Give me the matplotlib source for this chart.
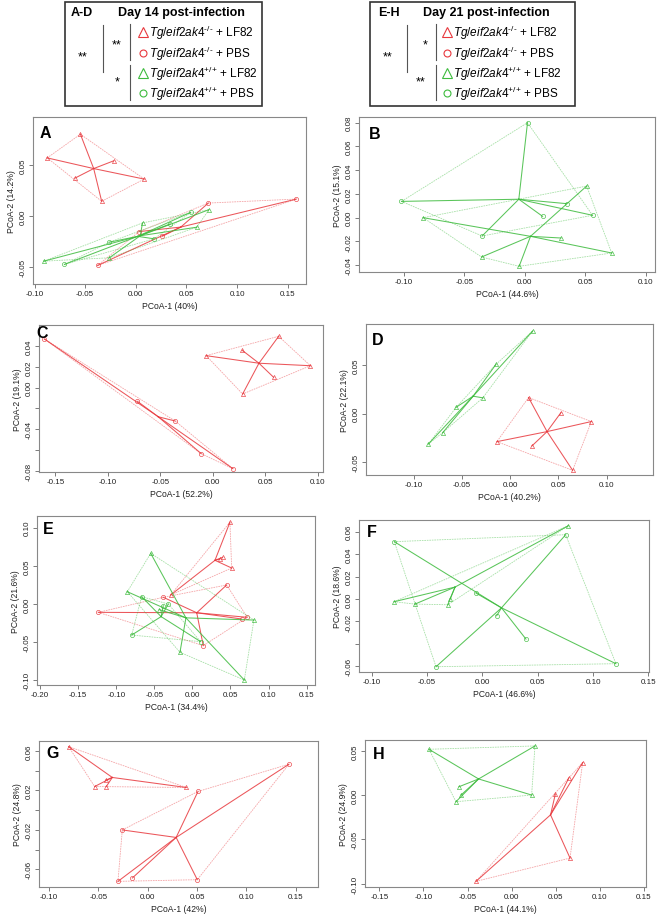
import numpy as np
import matplotlib
matplotlib.use('Agg')
import matplotlib.pyplot as plt
from matplotlib.patches import Rectangle

plt.rcParams['font.family'] = ['Liberation Sans', 'DejaVu Sans']
plt.rcParams['mathtext.fontset'] = 'custom'
plt.rcParams['mathtext.it'] = 'Liberation Sans:italic'
plt.rcParams['mathtext.rm'] = 'Liberation Sans'

W, H = 659, 920
RED = '#e8383d'
GREEN = '#3dbb3d'

### Data (PCoA-1, PCoA-2) per sample
A_ko_lf82 = [(-0.0547, 0.0805), (-0.0875, 0.0573), (-0.0219, 0.0544), (-0.060, 0.0375), (0.0083, 0.0365), (-0.0337, 0.0147)]
A_ko_pbs = [(-0.0377, -0.0482), (0.0033, -0.0150), (0.0263, -0.0195), (0.0716, 0.0130), (0.1585, 0.0169)]
A_wt_lf82 = [(-0.0908, -0.044), (-0.0262, -0.0407), (0.0066, -0.0065), (0.0722, 0.0065), (0.0601, -0.0107)]
A_wt_pbs = [(-0.0705, -0.0472), (-0.0262, -0.0254), (0.0181, -0.0221), (0.0542, 0.0039), (0.0339, -0.0075)]

B_wt_pbs = [(0.0023, 0.0799), (-0.1019, 0.0137), (0.0346, 0.0118), (0.0148, 0.0011), (-0.0352, -0.0154), (0.0561, 0.0020)]
B_wt_lf82 = [(-0.084, 0.0), (-0.0357, -0.0331), (-0.0046, -0.0409), (0.0512, 0.0266), (0.0299, -0.0171), (0.0719, -0.0297)]

C_ko_pbs = [(-0.1604, 0.0471), (-0.0718, -0.0131), (-0.0359, -0.0321), (-0.0111, -0.0636), (0.0191, -0.0781)]
C_ko_lf82 = [(-0.0064, 0.031), (0.028, 0.0361), (0.0626, 0.0497), (0.0928, 0.0213), (0.0578, 0.0101), (0.0283, -0.006)]

D_wt_lf82 = [(0.0232, 0.0846), (-0.0149, 0.0503), (-0.0284, 0.0161), (-0.056, 0.0065), (-0.0699, -0.0195), (-0.0848, -0.0312)]
D_ko_lf82 = [(0.019, 0.0164), (0.0526, 0.001), (0.0841, -0.0082), (-0.0138, -0.0288), (0.0225, -0.0332), (0.0647, -0.0582)]

E_ko_lf82 = [(0.0493, 0.107), (0.0397, 0.0611), (0.0516, 0.0471), (-0.0285, 0.0118), (0.0362, 0.0589)]
E_ko_pbs = [(-0.1235, -0.0109), (0.072, -0.0174), (0.045, 0.0249), (0.0143, -0.0545), (-0.0382, 0.0088), (0.0647, -0.0196)]
E_wt_lf82 = [(-0.0547, 0.0663), (-0.0854, 0.0161), (0.0808, -0.021), (-0.0163, -0.0632), (0.0682, -0.0995), (-0.0434, -0.0074)]
E_wt_pbs = [(-0.0666, 0.0096), (-0.0382, -0.0022), (-0.0316, 0.0), (-0.0797, -0.0406), (0.0109, -0.0493)]

F_wt_lf82 = [(0.0777, 0.0653), (-0.0798, -0.0024), (-0.0609, -0.0045), (-0.0292, 0.0), (-0.0313, -0.0051)]
F_wt_pbs = [(-0.0796, 0.0511), (0.0753, 0.0573), (-0.0058, 0.0053), (0.0129, -0.0149), (0.0394, -0.0357), (-0.0419, -0.0603), (0.1207, -0.0576)]

G_ko_lf82 = [(-0.0801, 0.0644), (-0.0426, 0.0304), (-0.0537, 0.024), (-0.0419, 0.024), (0.0392, 0.023)]
G_ko_pbs = [(0.051, 0.019), (0.1432, 0.0466), (-0.0257, -0.02), (-0.0301, -0.0721), (-0.0155, -0.0687), (0.0503, -0.0704)]

H_wt_lf82 = [(-0.0937, 0.0517), (0.0264, 0.0555), (-0.0597, 0.0094), (-0.0574, 0.0), (-0.0631, -0.0075), (0.0226, 0.0)]
H_ko_lf82 = [(0.0804, 0.0367), (0.0646, 0.0191), (0.0495, 0.0011), (0.0661, -0.0712), (-0.0404, -0.0975)]

pct_x = ['40%', '44.6%', '52.2%', '40.2%', '34.4%', '46.6%', '42%', '44.1%']
pct_y = ['14.2%', '15.1%', '19.1%', '22.1%', '21.6%', '18.6%', '24.8%', '24.9%']


def convex_hull(pts):
    pts = sorted(set(pts))
    def cross(o, a, b):
        return (a[0]-o[0])*(b[1]-o[1]) - (a[1]-o[1])*(b[0]-o[0])
    lower, upper = [], []
    for p in pts:
        while len(lower) >= 2 and cross(lower[-2], lower[-1], p) <= 0:
            lower.pop()
        lower.append(p)
    for p in reversed(pts):
        while len(upper) >= 2 and cross(upper[-2], upper[-1], p) <= 0:
            upper.pop()
        upper.append(p)
    return lower[:-1] + upper[:-1]


def draw_group(ax, pts, color, marker):
    '''spider from centroid + hull, like ordispider/ordihull'''
    arr = np.array(pts)
    cx, cy = arr.mean(axis=0)
    hull = convex_hull(pts)
    hull.append(hull[0])
    hx, hy = zip(*hull)
    ax.plot(hx, hy, color=color, lw=0.6, alpha=0.45, ls=(0, (2, 1)))
    for x, y in pts:
        ax.plot([cx, x], [cy, y], color=color, lw=0.75, alpha=0.85)
    ax.plot(arr[:, 0], arr[:, 1], ls='none', marker=marker, ms=3, mfc='none', mec=color, mew=0.5, alpha=0.9)


fig = plt.figure(figsize=(W/100, H/100), dpi=100)


def px_axes(l, t, r, b):
    return fig.add_axes([l/W, 1 - b/H, (r-l)/W, (b-t)/H])


panels = [
    # letter, frame px, xlim, ylim, xticks, yticks, hidden y labels, groups, letter offset
    ('A', (33, 118, 306, 285), (-0.1015, 0.168), (-0.0664, 0.0974), np.arange(-0.10, 0.151, 0.05), [-0.05, 0.0, 0.05], [],
     [(A_ko_lf82, RED, '^'), (A_ko_pbs, RED, 'o'), (A_wt_lf82, GREEN, '^'), (A_wt_pbs, GREEN, 'o')], (7, 8)),
    ('B', (359, 118, 655, 273), (-0.137, 0.1077), (-0.0457, 0.0847), np.arange(-0.10, 0.101, 0.05), np.arange(-0.04, 0.081, 0.02), [],
     [(B_wt_pbs, GREEN, 'o'), (B_wt_lf82, GREEN, '^')], (10, 9)),
    ('C', (39, 326, 323, 473), (-0.1655, 0.1048), (-0.0813, 0.0606), np.arange(-0.15, 0.101, 0.05), np.arange(-0.08, 0.041, 0.02), [-0.06, -0.02],
     [(C_ko_pbs, RED, 'o'), (C_ko_lf82, RED, '^')], (-3, 0)),
    ('D', (366, 325, 653, 476), (-0.1495, 0.148), (-0.063, 0.0918), np.arange(-0.10, 0.101, 0.05), [-0.05, 0.0, 0.05], [],
     [(D_wt_lf82, GREEN, '^'), (D_ko_lf82, RED, '^')], (6, 8)),
    ('E', (37, 517, 315, 686), (-0.204, 0.161), (-0.106, 0.1152), np.arange(-0.20, 0.151, 0.05), np.arange(-0.10, 0.101, 0.05), [],
     [(E_ko_lf82, RED, '^'), (E_ko_pbs, RED, 'o'), (E_wt_lf82, GREEN, '^'), (E_wt_pbs, GREEN, 'o')], (6, 5)),
    ('F', (359, 521, 649, 673), (-0.1115, 0.1506), (-0.065, 0.0704), np.arange(-0.10, 0.151, 0.05), np.arange(-0.06, 0.061, 0.02), [-0.04],
     [(F_wt_lf82, GREEN, '^'), (F_wt_pbs, GREEN, 'o')], (8, 4)),
    ('G', (39, 742, 318, 888), (-0.1101, 0.1726), (-0.0778, 0.0701), np.arange(-0.10, 0.151, 0.05), np.arange(-0.06, 0.061, 0.02), [-0.04, 0.0, 0.04],
     [(G_ko_lf82, RED, '^'), (G_ko_pbs, RED, 'o')], (7, 4)),
    ('H', (365, 741, 646, 888), (-0.1662, 0.1522), (-0.1039, 0.0622), np.arange(-0.15, 0.151, 0.05), [-0.10, -0.05, 0.0, 0.05], [],
     [(H_wt_lf82, GREEN, '^'), (H_ko_lf82, RED, '^')], (8, 6)),
]

for i, (letter, frame, xlim, ylim, xt, yt, hide, groups, loff) in enumerate(panels):
    ax = px_axes(*frame)
    for pts, col, mk in groups:
        draw_group(ax, pts, col, mk)
    ax.set_xlim(*xlim)
    ax.set_ylim(*ylim)
    ax.set_xticks(xt)
    ax.set_xticklabels([f'{v:.2f}'.replace('-0.00', '0.00') for v in xt])
    ax.set_yticks(yt)
    ylabs = []
    for v in yt:
        s = f'{v:.2f}'.replace('-0.00', '0.00')
        ylabs.append('' if any(abs(v - h) < 1e-9 for h in hide) else s)
    ax.set_yticklabels(ylabs, rotation=90, va='center')
    for sp in ax.spines.values():
        sp.set_color('#888888')
        sp.set_linewidth(0.8)
    ax.tick_params(direction='out', length=3, width=0.6, color='#666666', labelsize=5.8, pad=1.5, labelcolor='#222222')
    ax.set_xlabel(f'PCoA-1 ({pct_x[i]})', fontsize=6.2, labelpad=3, color='#222222')
    ax.set_ylabel(f'PCoA-2 ({pct_y[i]})', fontsize=6.2, labelpad=3, color='#222222')
    fig.text((frame[0] + loff[0]) / W, 1 - (frame[1] + loff[1]) / H, letter,
             fontsize=11.5, fontweight='bold', ha='left', va='top')

### Legend boxes drawn in pixel coordinates
lg = fig.add_axes([0, 0, 1, 1])
lg.set_xlim(0, W)
lg.set_ylim(H, 0)
lg.axis('off')

boxes = [
    dict(box=(65, 3, 262, 107), tag='A-D', tagx=82, title='Day 14 post-infection', titlex=181,
         v1=103, v2=130, s_outer='**', s_outer_x=83, s_top='**', s_top_x=117, s_bot='*', s_bot_x=117,
         mx=143, tx=149),
    dict(box=(370, 3, 575, 107), tag='E-H', tagx=389, title='Day 21 post-infection', titlex=486,
         v1=407, v2=436, s_outer='**', s_outer_x=388, s_top='*', s_top_x=425, s_bot='**', s_bot_x=421,
         mx=447, tx=453),
]
rows_y = [33, 54, 74, 94]
entries = [
    (RED, '^', r'$\mathit{Tg/eif2ak4}^{\text{-/-}}$ + LF82'),
    (RED, 'o', r'$\mathit{Tg/eif2ak4}^{\text{-/-}}$ + PBS'),
    (GREEN, '^', r'$\mathit{Tg/eif2ak4}^{\text{+/+}}$ + LF82'),
    (GREEN, 'o', r'$\mathit{Tg/eif2ak4}^{\text{+/+}}$ + PBS'),
]
for b in boxes:
    l, t, r, bt = b['box']
    lg.add_patch(Rectangle((l, t), r - l, bt - t, fill=False, ec='#333333', lw=1.2))
    lg.text(b['tagx'], 13, b['tag'], fontsize=9, fontweight='bold', ha='center', va='center')
    lg.text(b['titlex'], 13, b['title'], fontsize=9, fontweight='bold', ha='center', va='center')
    lg.plot([b['v1'], b['v1']], [26, 73], color='#555555', lw=0.8)
    lg.plot([b['v2'], b['v2']], [25, 61], color='#555555', lw=0.8)
    lg.plot([b['v2'], b['v2']], [66, 101], color='#555555', lw=0.8)
    lg.text(b['s_outer_x'], 57, b['s_outer'], fontsize=9, ha='center', va='center')
    lg.text(b['s_top_x'], 45, b['s_top'], fontsize=9, ha='center', va='center')
    lg.text(b['s_bot_x'], 82, b['s_bot'], fontsize=9, ha='center', va='center')
    for (col, mk, label), y in zip(entries, rows_y):
        lg.plot([b['mx']], [y], marker=mk, ms=7 if mk == '^' else 5, mfc='none', mec=col, mew=0.8, ls='none')
        lg.text(b['tx'], y, label, fontsize=8.5, ha='left', va='center')

fig.savefig('out.png', dpi=100)
